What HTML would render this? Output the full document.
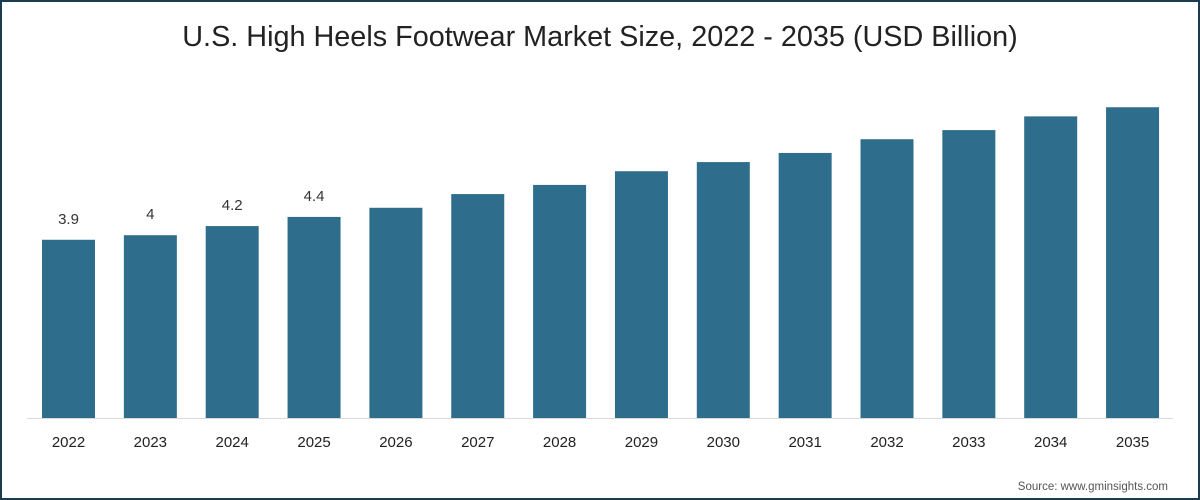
<!DOCTYPE html>
<html><head><meta charset="utf-8"><style>
html,body{margin:0;padding:0;background:#fff;}
#frame{position:relative;width:1196px;height:496px;border:2px solid #1d3b4f;background:#fff;overflow:hidden;}
svg{position:absolute;left:-2px;top:-2px;}
</style></head><body>
<div id="frame">
<svg id="chart" width="1200" height="500" xmlns="http://www.w3.org/2000/svg">
<text x="600" y="46" text-anchor="middle" font-family="'Liberation Sans', sans-serif" font-size="28.8" fill="#222">U.S. High Heels Footwear Market Size, 2022 - 2035 (USD Billion)</text>
<line x1="27" y1="418.5" x2="1173" y2="418.5" stroke="#d9d9d9" stroke-width="1"/>
<text x="1168" y="490" text-anchor="end" font-family="'Liberation Sans', sans-serif" font-size="11.5" fill="#555">Source: www.gminsights.com</text>
</svg>
</div>
<script>
const categories = ['2022','2023','2024','2025','2026','2027','2028','2029','2030','2031','2032','2033','2034','2035'];
const values = [3.9, 4.0, 4.2, 4.4, 4.6, 4.9, 5.1, 5.4, 5.6, 5.8, 6.1, 6.3, 6.6, 6.8];
const valueLabels = ['3.9','4','4.2','4.4','','','','','','','','','',''];

const svg = document.getElementById('chart');
const NS = 'http://www.w3.org/2000/svg';
const baseY = 418, pxPerUnit = 45.7;
const firstX = 42, pitch = 81.85, barW = 53;
function xPos(i){ return firstX + i * pitch; }
function yPos(v){ return baseY - v * pxPerUnit; }

categories.forEach((c, i) => {
  const x = xPos(i), y = yPos(values[i]);
  const r = document.createElementNS(NS, 'rect');
  r.setAttribute('x', x); r.setAttribute('y', y);
  r.setAttribute('width', barW); r.setAttribute('height', baseY - y);
  r.setAttribute('fill', '#2f6d8c');
  
  
  svg.appendChild(r);

  const t = document.createElementNS(NS, 'text');
  t.setAttribute('x', x + barW / 2); t.setAttribute('y', 447);
  t.setAttribute('text-anchor', 'middle');
  t.setAttribute('font-family', "'Liberation Sans', sans-serif");
  t.setAttribute('font-size', '15'); t.setAttribute('fill', '#222');
  t.textContent = c;
  
  
  svg.appendChild(t);

  if (valueLabels[i]) {
    const v = document.createElementNS(NS, 'text');
    v.setAttribute('x', x + barW / 2); v.setAttribute('y', y - 16);
    v.setAttribute('text-anchor', 'middle');
    v.setAttribute('font-family', "'Liberation Sans', sans-serif");
    v.setAttribute('font-size', '15'); v.setAttribute('fill', '#333');
    v.textContent = valueLabels[i];
    
    
    svg.appendChild(v);
  }
});
</script>
</body></html>
